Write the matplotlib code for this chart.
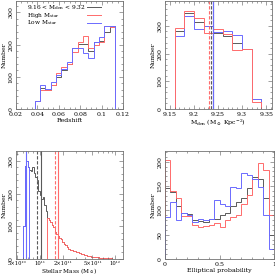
import numpy as np
import matplotlib
matplotlib.use("Agg")
import matplotlib.pyplot as plt
from matplotlib.ticker import FixedLocator, NullFormatter, MultipleLocator

plt.rcParams['font.family'] = ['DejaVu Serif']
plt.rcParams['mathtext.fontset'] = 'dejavuserif'
plt.rcParams['font.size'] = 4.5

RED = '#ff6b6b'
BLUE = '#6b6bff'
GRAY = '#5a5a5a'

# redshift histograms
z_edges = [0.0375, 0.0425, 0.0475, 0.0525, 0.0575, 0.0625, 0.0675, 0.0725,
           0.0775, 0.0825, 0.0875, 0.0925, 0.0975, 0.1025, 0.1075, 0.1125]
z_all = [25, 66, 58, 74, 99, 120, 140, 189, 202, 202, 181, 207, 212, 240, 259]
z_high = [25, 58, 58, 74, 111, 130, 140, 176, 209, 226, 189, 200, 207, 259, 254]
z_low = [25, 74, 63, 83, 107, 125, 147, 189, 189, 175, 159, 207, 223, 259, 259]

# surface density histograms
d_edges = [9.16, 9.18, 9.20, 9.22, 9.24, 9.26, 9.28, 9.30, 9.32, 9.34]
d_all = [281, 347, 314, 298, 275, 265, 238, 217, 36]
d_high = [293, 353, 329, 275, 289, 271, 214, 217, 25]
d_low = [262, 337, 289, 301, 277, 283, 268, 217, 36]
d_lines = [9.231, 9.235, 9.239, 9.2405]
d_line_colors = [RED, GRAY, GRAY, BLUE]
d_line_styles = ['--', '--', '-', '-']

# stellar mass histograms (log10 bin edges)
m_all_start, m_step = 10.78, 0.02
m_all = [100, 285, 298, 280, 272, 268, 282, 262, 252, 240, 208, 195, 182, 188,
         165, 148, 124, 118, 112, 105, 98, 82, 75, 70, 65, 60, 52, 47, 42, 37,
         32, 29, 27, 25, 23, 22, 20, 18, 16, 14, 12, 11, 10, 9, 8, 7, 7, 6, 5,
         5, 4, 4, 3, 3, 3, 2, 2, 2, 2, 1, 1, 1, 1]
m_high_start = 11.10
m_high = [124, 118, 112, 105, 98, 82, 75, 70, 65, 60, 52, 47, 42, 37,
          32, 29, 27, 25, 23, 22, 20, 18, 16, 14, 12, 11, 10, 9, 8, 7, 7, 6, 5,
          5, 4, 4, 3, 3, 3, 2, 2, 2, 2, 1, 1, 1, 1]
m_low_start = 10.78
m_low = [100, 285, 300, 280]
m_lines = [10.815, 10.965, 11.009, 11.199, 11.235]
m_line_colors = [BLUE, GRAY, GRAY, RED, RED]
m_line_styles = ['-', '--', '-', '--', '-']
m_ticks = [5e10, 1e11, 2e11, 5e11, 1e12]
m_tick_labels = ['5×10¹⁰', '10¹¹', '2×10¹¹', '5×10¹¹', '10¹²']

# elliptical probability histograms
p_edges = list(np.round(np.arange(0, 1.0001, 0.05), 2))
p_all = [146, 137, 108, 94, 92, 80, 79, 77, 82, 82, 90, 94, 108, 118, 125,
         146, 168, 164, 125, 49]
p_high = [204, 139, 125, 88, 88, 70, 65, 68, 70, 73, 65, 80, 86, 90, 113,
          132, 164, 197, 182, 90]
p_low = [86, 118, 80, 94, 90, 77, 83, 81, 82, 121, 113, 109, 149, 146, 177,
         173, 164, 147, 90, 21]


def hist_line(ax, edges, vals, color, lims):
    e = [lims[0]] + list(edges) + [lims[1]]
    v = [0] + list(vals) + [0]
    ax.stairs(v, e, baseline=None, color=color, lw=0.7)


def style(ax):
    ax.tick_params(which='both', direction='in', top=True, right=True,
                   width=0.4, color='0.35', pad=2)
    ax.tick_params(which='major', length=3)
    ax.tick_params(which='minor', length=1.5)
    ax.tick_params(axis='y', labelrotation=90)
    for t in ax.get_yticklabels():
        t.set_va('center')
    for s in ax.spines.values():
        s.set_linewidth(0.6)
        s.set_color('0.45')
    ax.set_ylabel('Number', labelpad=1)


W, H = 275, 276
fig = plt.figure(figsize=(W / 100, H / 100), dpi=100)


def box(l, r, t, b):
    return [l / W, 1 - b / H, (r - l) / W, (b - t) / H]


# top left: redshift
ax1 = fig.add_axes(box(16, 123, 1, 109))
lim = (0.02, 0.12)
for vals, c in [(z_all, GRAY), (z_high, RED), (z_low, BLUE)]:
    hist_line(ax1, z_edges, vals, c, lim)
ax1.set_xlim(lim)
ax1.set_ylim(0, 335)
ax1.set_xticks([0.02, 0.04, 0.06, 0.08, 0.1, 0.12])
ax1.set_xticklabels(['0.02', '0.04', '0.06', '0.08', '0.1', '0.12'])
ax1.xaxis.set_minor_locator(MultipleLocator(0.005))
ax1.set_yticks([0, 100, 200, 300])
ax1.yaxis.set_minor_locator(MultipleLocator(20))
ax1.set_xlabel('Redshift', labelpad=1)
style(ax1)
legend_rows = [r'9.16 < M$_{\rm den}$ < 9.32', r'High M$_{\rm star}$',
               r'Low M$_{\rm star}$']
for i, (txt, c) in enumerate(zip(legend_rows, [GRAY, RED, BLUE])):
    y = 0.94 - i * 0.072
    ax1.text(0.1, y, txt, transform=ax1.transAxes, fontsize=4.2, va='center')
    ax1.plot([0.66, 0.79], [y, y], transform=ax1.transAxes, color=c, lw=0.7)

# top right: density
ax2 = fig.add_axes(box(165, 272, 1, 109))
lim = (9.14, 9.362)
for vals, c in [(d_all, GRAY), (d_low, BLUE), (d_high, RED)]:
    hist_line(ax2, d_edges, vals, c, lim)
for x, c, ls in zip(d_lines, d_line_colors, d_line_styles):
    ax2.axvline(x, color=c, ls=ls, lw=0.8, dashes=(3, 1.5) if ls == '--' else (None, None))
ax2.set_xlim(lim)
ax2.set_ylim(0, 390)
ax2.set_xticks([9.15, 9.2, 9.25, 9.3, 9.35])
ax2.set_xticklabels(['9.15', '9.2', '9.25', '9.3', '9.35'])
ax2.xaxis.set_minor_locator(MultipleLocator(0.01))
ax2.set_yticks([0, 100, 200, 300])
ax2.yaxis.set_minor_locator(MultipleLocator(20))
ax2.set_xlabel(r'M$_{\rm den}$ (M$_\odot$ Kpc$^{-2}$)', labelpad=1)
style(ax2)

# bottom left: stellar mass
ax3 = fig.add_axes(box(16, 123, 151, 259))
lim = (10 ** 10.681, 10 ** 12.106)
for start, vals, c in [(m_all_start, m_all, GRAY), (m_high_start, m_high, RED),
                       (m_low_start, m_low, BLUE)]:
    edges = 10 ** (start + m_step * np.arange(len(vals) + 1))
    hist_line(ax3, edges, vals, c, lim)
for x, c, ls in zip(m_lines, m_line_colors, m_line_styles):
    ax3.axvline(10 ** x, color=c, ls=ls, lw=0.8, dashes=(3, 1.5) if ls == '--' else (None, None))
ax3.set_xscale('log')
ax3.set_xlim(lim)
ax3.set_ylim(0, 330)
ax3.xaxis.set_major_locator(FixedLocator(m_ticks))
ax3.set_xticklabels(m_tick_labels, fontsize=3.8)
ax3.xaxis.set_minor_locator(FixedLocator([6e10, 7e10, 8e10, 9e10, 3e11, 4e11,
                                          6e11, 7e11, 8e11, 9e11]))
ax3.xaxis.set_minor_formatter(NullFormatter())
ax3.set_yticks([0, 100, 200, 300])
ax3.yaxis.set_minor_locator(MultipleLocator(20))
ax3.set_xlabel(r'Stellar Mass (M$_\odot$)', va='center', fontsize=4.2)
ax3.xaxis.set_label_coords(0.5, -0.11)
style(ax3)
ax3.tick_params(axis='x', pad=1.5)

# bottom right: elliptical probability
ax4 = fig.add_axes(box(165, 274, 151, 259))
lim = (0, 1)
for vals, c in [(p_all, GRAY), (p_high, RED), (p_low, BLUE)]:
    hist_line(ax4, p_edges, vals, c, lim)
ax4.set_xlim(lim)
ax4.set_ylim(0, 222)
ax4.set_xticks([0, 0.5, 1])
ax4.set_xticklabels(['0', '0.5', '1'])
ax4.xaxis.set_minor_locator(MultipleLocator(0.1))
ax4.set_yticks([0, 50, 100, 150, 200])
ax4.yaxis.set_minor_locator(MultipleLocator(10))
ax4.set_xlabel('Elliptical probability', labelpad=1)
style(ax4)

fig.savefig('out.png', dpi=100)
